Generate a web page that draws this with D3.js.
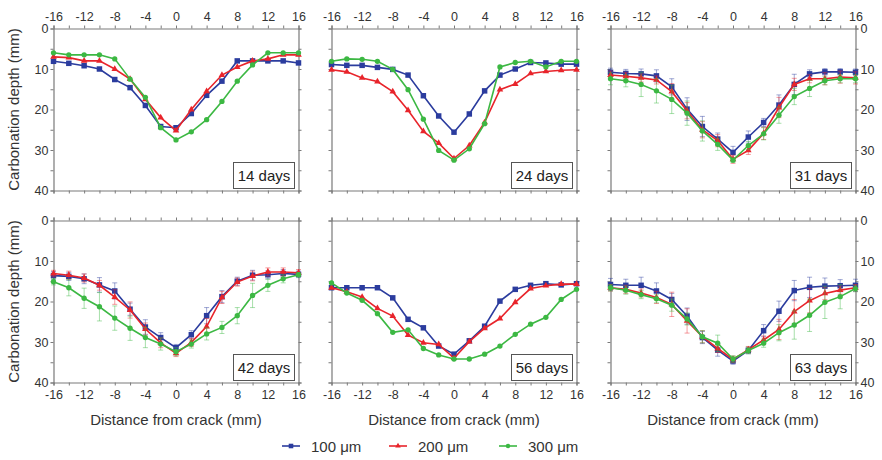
<!DOCTYPE html>
<html>
<head>
<meta charset="utf-8">
<script src="https://cdn.jsdelivr.net/npm/d3@7"></script>
<style>
  body { margin: 0; background: #fff; }
  text { font-family: Arial, "Liberation Sans", sans-serif; }
</style>
</head>
<body>
<div id="chart"></div>
<script>
// Carbonation depth vs distance from crack, 6 panels

const width = 882;
const height = 460;

// distances from crack (mm)
const distances = [-16, -14, -12, -10, -8, -6, -4, -2, 0, 2, 4, 6, 8, 10, 12, 14, 16];
const xTicks = [-16, -14, -12, -10, -8, -6, -4, -2, 0, 2, 4, 6, 8, 10, 12, 14, 16];
const yTicks = [0, 5, 10, 15, 20, 25, 30, 35, 40];
const seriesNames = ["100 \u03bcm", "200 \u03bcm", "300 \u03bcm"];
const panelLabels = ["14 days", "24 days", "31 days", "42 days", "56 days", "63 days"];

// 14 days
const d14_100 = [8.1, 8.6, 9.2, 10, 12.6, 14.6, 19, 24.2, 24.5, 21, 16.5, 13, 8, 8, 8, 8, 8.5];
const d14_200 = [7, 7.2, 8, 8, 10, 12.5, 17.5, 22, 25.2, 20, 15.5, 11.5, 9.5, 8, 7.5, 6.5, 6.5];
const d14_300 = [6, 6.5, 6.5, 6.5, 7.5, 12.5, 17, 24.5, 27.5, 25.5, 22.5, 18, 13, 9, 6, 6, 6];

// 24 days
const d24_100 = [8.9, 9.1, 9.1, 9.6, 10.1, 11.5, 16.6, 21.6, 25.6, 21.1, 15.4, 11.5, 10, 8.4, 8.5, 8.8, 8.8];
const d24_200 = [10.2, 10.7, 12.2, 13.1, 15.6, 20.2, 25.4, 28.3, 32.1, 28.9, 23.2, 15.1, 13.7, 11.1, 10.6, 10.3, 10.2];
const d24_300 = [8.1, 7.5, 7.6, 8.1, 10.1, 15.1, 22.4, 30.1, 32.5, 29.7, 23.5, 9.5, 8.4, 8.1, 9.5, 8.1, 8.1];

// 31 days (+ error bars)
const d31_100 = [10.8, 11.1, 11.2, 11.7, 14.4, 19.9, 24.2, 27.3, 30.6, 26.8, 23.2, 18.9, 13.8, 11.2, 10.7, 10.7, 10.8];
const d31_200 = [11.5, 11.8, 12.2, 12.7, 15.6, 20.3, 25, 27.7, 32.3, 30.1, 25.9, 19.5, 13.8, 12.4, 12.4, 12, 12.2];
const d31_300 = [12.4, 12.9, 13.8, 15.4, 17.5, 20.9, 25.3, 28.6, 32.5, 28.9, 26, 21.4, 16.8, 14.8, 12.9, 12.4, 12.4];
const e31_100 = [1, 1, 1.2, 1.5, 2, 2.8, 2.5, 1.5, 1.5, 1.5, 1, 2.5, 2.5, 1, 0.8, 0.8, 0.8];
const e31_200 = [1, 1, 1, 1, 2, 2, 2, 1.5, 1, 1, 1.5, 2.5, 1.5, 1, 1.5, 1.5, 1.5];
const e31_300 = [1.5, 1.5, 3, 3, 3.5, 3, 2.5, 1.5, 0.5, 1, 1.5, 2, 2, 2, 1, 1, 1];

// 42 days (+ error bars)
const d42_100 = [13.6, 13.8, 14.4, 15.9, 17.4, 21.9, 26.3, 28.9, 31.4, 28.2, 23.5, 18.8, 15, 13.5, 13.4, 13.1, 13.3];
const d42_200 = [13.1, 13.5, 14.2, 16, 18.9, 22.1, 26.8, 30.2, 32.8, 30.1, 26.2, 19, 15.2, 13.7, 12.7, 12.7, 12.9];
const d42_300 = [15.1, 16.6, 19.2, 21.3, 24.1, 26.6, 28.9, 30.5, 32.4, 30.5, 28, 26.4, 23.5, 18.5, 16, 14.4, 13.4];
const e42_100 = [1, 1, 1.2, 1.8, 2, 1.5, 1.8, 1.2, 0.8, 1, 2, 1.5, 1, 1.2, 1, 1, 0.8];
const e42_200 = [0.8, 1, 1, 1.2, 1.8, 2, 1.5, 1.2, 0.8, 1, 2, 1.5, 1, 1.2, 1, 1, 0.8];
const e42_300 = [0.8, 2, 2.5, 3.5, 3, 3, 2.5, 1.5, 1, 1, 1.5, 1.5, 2, 3, 1.5, 1, 0.5];

// 56 days
const d56_100 = [16.6, 16.6, 16.6, 16.6, 19.1, 24.4, 26.5, 31, 33, 29.7, 26.1, 19.9, 17, 16, 15.6, 15.9, 15.6];
const d56_200 = [16.6, 17.6, 18.9, 21.7, 23.6, 28.3, 30.2, 30.6, 34, 29.9, 26.6, 24.2, 20.2, 16.8, 16.1, 15.7, 15.7];
const d56_300 = [15.4, 17.9, 19.7, 23, 27.6, 27, 31.6, 33.2, 34.2, 34.2, 33, 31, 28.1, 25.6, 23.9, 19.5, 17];

// 63 days (+ error bars)
const d63_100 = [15.8, 16, 16, 17.4, 19.5, 23.6, 28.9, 32, 34.7, 32.1, 27.2, 22.4, 17.3, 16.5, 16.2, 16.1, 16];
const d63_200 = [16.6, 17, 17.9, 19, 20.7, 24.8, 28.7, 31.6, 34.3, 31.9, 29.5, 26.9, 22.5, 19.8, 18, 17.2, 16.6];
const d63_300 = [16.6, 17.2, 18.3, 19.3, 20.9, 24.3, 28.7, 30.3, 34.2, 32.1, 30.3, 27.7, 25.8, 23.4, 20.2, 18.8, 16.8];
const e63_100 = [1.5, 1.5, 2, 2, 1.5, 2, 1.5, 1.5, 0.8, 0.8, 1.5, 2.5, 2.5, 2.5, 2, 1.5, 1.5];
const e63_200 = [0.8, 1, 1, 1.5, 3, 3, 1.5, 1, 0.8, 0.8, 1, 2.5, 3, 3, 1.5, 1, 0.8];
const e63_300 = [0.8, 1, 1, 1, 1.5, 1.5, 1.5, 2, 0.8, 0.8, 1, 2, 3.5, 4, 4, 3, 0.8];

// gather panels (row-major)
const panels = [
  { series: [d14_100, d14_200, d14_300], errors: null },
  { series: [d24_100, d24_200, d24_300], errors: null },
  { series: [d31_100, d31_200, d31_300], errors: [e31_100, e31_200, e31_300] },
  { series: [d42_100, d42_200, d42_300], errors: [e42_100, e42_200, e42_300] },
  { series: [d56_100, d56_200, d56_300], errors: null },
  { series: [d63_100, d63_200, d63_300], errors: [e63_100, e63_200, e63_300] }
];

const colors = ["#2b3c9e", "#e8242b", "#3cb843"];
const markers = [d3.symbolSquare, d3.symbolTriangle, d3.symbolCircle];
const markerSizes = [30, 19, 22];

// panel geometry
const colLeft = [53.5, 331.5, 610.5];
const rowTop = [28.5, 220.5];
const pw = 245;
const ph = 162;

const axisColor = "#7a7a7a";
const textColor = "#333";

const svg = d3.select("#chart")
  .append("svg")
  .attr("width", width)
  .attr("height", height);

function styleAxis(g) {
  g.select(".domain").attr("stroke", axisColor).attr("stroke-width", 1.2);
  g.selectAll(".tick line").attr("stroke", axisColor).attr("stroke-width", 1);
  g.selectAll(".tick text").attr("fill", textColor).attr("font-size", "12.5px")
    .attr("font-family", "Arial, 'Liberation Sans', sans-serif");
}

panels.forEach((p, idx) => {
  const row = Math.floor(idx / 3);
  const col = idx % 3;
  const x0 = colLeft[col];
  const y0 = rowTop[row];

  const xScale = d3.scaleLinear().domain([-16, 16]).range([x0, x0 + pw]);
  const yScale = d3.scaleLinear().domain([0, 40]).range([y0, y0 + ph]);

  const g = svg.append("g");

  // top axis (labels only on top row)
  g.append("g")
    .attr("transform", `translate(0,${y0})`)
    .call(d3.axisTop(xScale).tickValues(xTicks).tickSize(3).tickPadding(5)
      .tickFormat(d => (row === 0 && d % 4 === 0) ? String(d) : ""))
    .call(styleAxis);

  // bottom axis (labels only on bottom row)
  g.append("g")
    .attr("transform", `translate(0,${y0 + ph})`)
    .call(d3.axisBottom(xScale).tickValues(xTicks).tickSize(3).tickPadding(5)
      .tickFormat(d => (row === 1 && d % 4 === 0) ? String(d) : ""))
    .call(styleAxis);

  // left axis
  g.append("g")
    .attr("transform", `translate(${x0},0)`)
    .call(d3.axisLeft(yScale).tickValues(yTicks).tickSize(3).tickPadding(2)
      .tickFormat(d => (col === 0 && d % 10 === 0) ? String(d) : ""))
    .call(styleAxis);

  // right axis
  g.append("g")
    .attr("transform", `translate(${x0 + pw},0)`)
    .call(d3.axisRight(yScale).tickValues(yTicks).tickSize(3).tickPadding(2)
      .tickFormat(d => (col === 2 && d % 10 === 0) ? String(d) : ""))
    .call(styleAxis);

  // series
  p.series.forEach((vals, si) => {
    const pts = distances.map((d, i) => ({ x: d, y: vals[i], e: p.errors ? p.errors[si][i] : 0 }));

    if (p.errors) {
      const eg = g.append("g").attr("stroke", colors[si]).attr("stroke-opacity", 0.45).attr("stroke-width", 1);
      pts.forEach(d => {
        const cx = xScale(d.x);
        eg.append("line").attr("x1", cx).attr("x2", cx)
          .attr("y1", yScale(d.y - d.e)).attr("y2", yScale(d.y + d.e));
        eg.append("line").attr("x1", cx - 2.5).attr("x2", cx + 2.5)
          .attr("y1", yScale(d.y - d.e)).attr("y2", yScale(d.y - d.e));
        eg.append("line").attr("x1", cx - 2.5).attr("x2", cx + 2.5)
          .attr("y1", yScale(d.y + d.e)).attr("y2", yScale(d.y + d.e));
      });
    }

    const line = d3.line().x(d => xScale(d.x)).y(d => yScale(d.y));
    g.append("path")
      .datum(pts)
      .attr("fill", "none")
      .attr("stroke", colors[si])
      .attr("stroke-width", 1.6)
      .attr("d", line);

    g.selectAll(".m" + si)
      .data(pts)
      .enter()
      .append("path")
        .attr("class", "m" + si)
        .attr("transform", d => `translate(${xScale(d.x)},${yScale(d.y)})`)
        .attr("d", d3.symbol().type(markers[si]).size(markerSizes[si]))
        .attr("fill", colors[si]);
  });

  // day label box
  const bw = 61, bh = 26;
  const bx = x0 + pw - 4 - bw;
  const by = y0 + ph - 2 - bh;
  g.append("rect")
    .attr("x", bx).attr("y", by).attr("width", bw).attr("height", bh)
    .attr("fill", "#fff").attr("stroke", "#555").attr("stroke-width", 1);
  g.append("text")
    .attr("x", bx + bw / 2).attr("y", by + bh / 2 + 5.5)
    .attr("text-anchor", "middle")
    .attr("font-size", "15px")
    .attr("fill", "#222")
    .text(panelLabels[idx]);

  // x title under bottom row
  if (row === 1) {
    svg.append("text")
      .attr("x", x0 + pw / 2).attr("y", 425)
      .attr("text-anchor", "middle")
      .attr("font-size", "15px")
      .attr("fill", textColor)
      .text("Distance from crack (mm)");
  }
  // y title on left column
  if (col === 0) {
    svg.append("text")
      .attr("transform", `translate(19,${y0 + ph / 2}) rotate(-90)`)
      .attr("text-anchor", "middle")
      .attr("font-size", "15px")
      .attr("fill", textColor)
      .text("Carbonation depth (mm)");
  }
});

// legend
const legendX = [282, 389, 499];
const legendY = 446;
seriesNames.forEach((name, i) => {
  const lg = svg.append("g");
  lg.append("line")
    .attr("x1", legendX[i]).attr("x2", legendX[i] + 18)
    .attr("y1", legendY).attr("y2", legendY)
    .attr("stroke", colors[i]).attr("stroke-width", 1.6);
  lg.append("path")
    .attr("transform", `translate(${legendX[i] + 9},${legendY})`)
    .attr("d", d3.symbol().type(markers[i]).size(markerSizes[i] * 0.7))
    .attr("fill", colors[i]);
  lg.append("text")
    .attr("x", legendX[i] + 29).attr("y", legendY + 5.5)
    .attr("font-size", "15px")
    .attr("fill", textColor)
    .text(name);
});
</script>
</body>
</html>
